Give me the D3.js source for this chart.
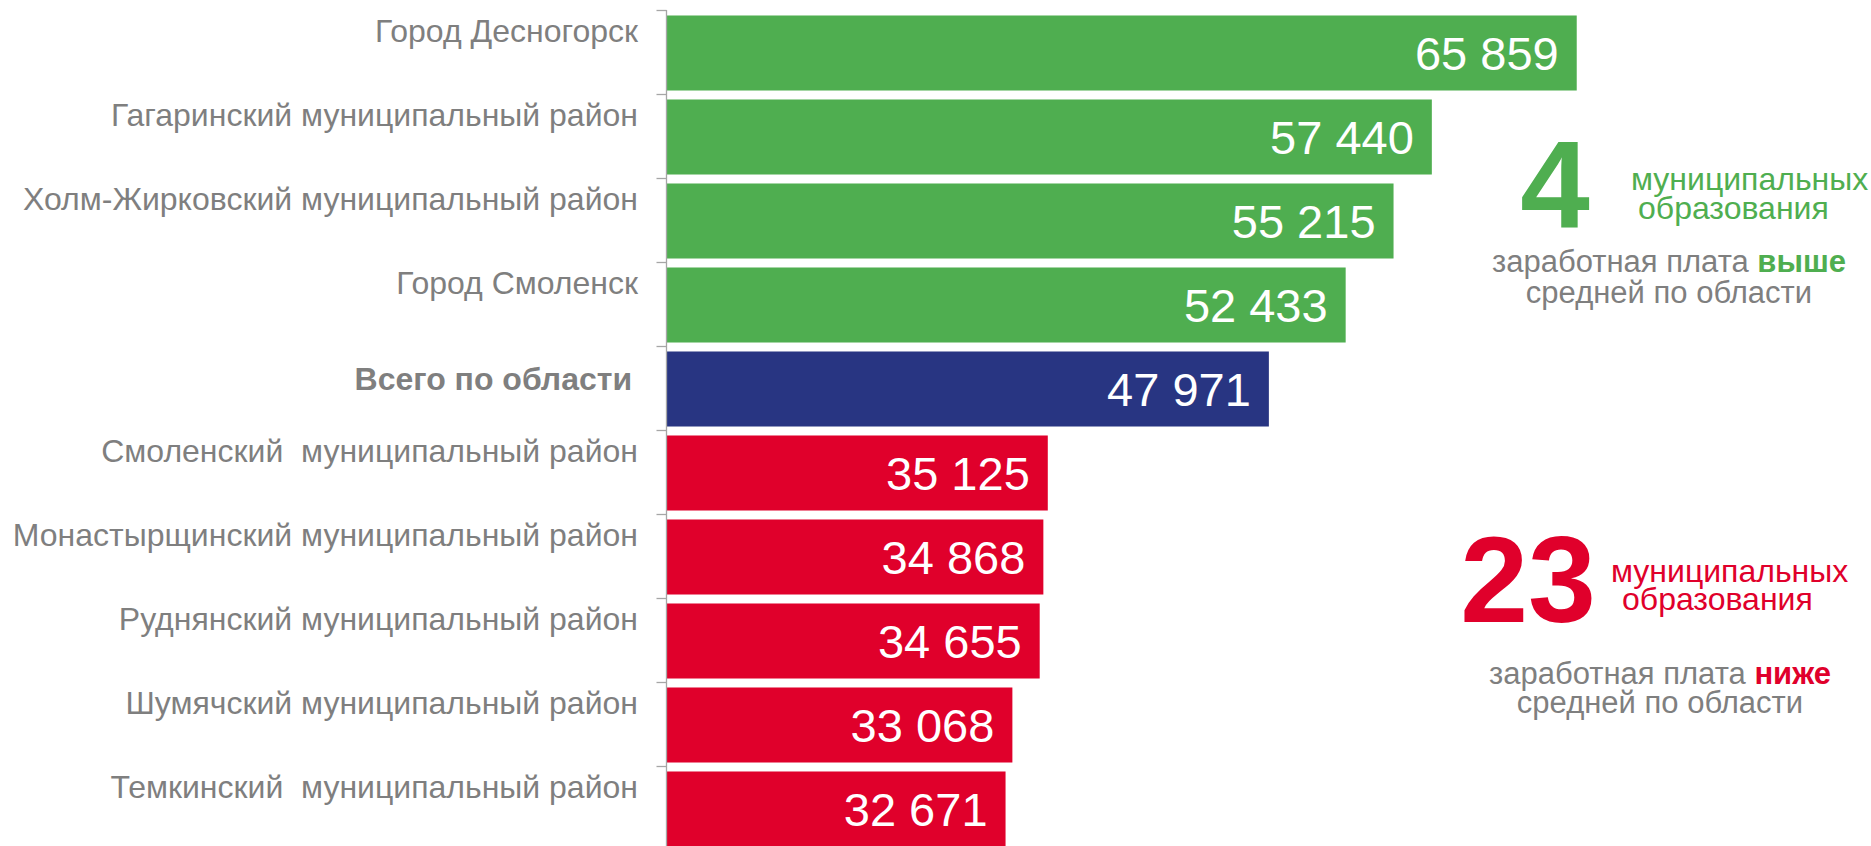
<!DOCTYPE html>
<html>
<head>
<meta charset="utf-8">
<script src="https://cdn.jsdelivr.net/npm/d3@7"></script>
<style>
  body { margin: 0; background: #fff; }
  text { font-family: "Liberation Sans", Arial, sans-serif; white-space: pre; }
</style>
</head>
<body>
<div class="BarChart"></div>
<script>
// Data
const names = [
  "Город Десногорск",
  "Гагаринский муниципальный район",
  "Холм-Жирковский муниципальный район",
  "Город Смоленск",
  "Всего по области ",
  "Смоленский  муниципальный район",
  "Монастырщинский муниципальный район",
  "Руднянский муниципальный район",
  "Шумячский муниципальный район",
  "Темкинский  муниципальный район",
];
const values = [65859, 57440, 55215, 52433, 47971, 35125, 34868, 34655, 33068, 32671];
const totalIndex = 4;

const aboveCount = "4";
const belowCount = "23";
const countLines = ["муниципальных", "образования"];
const noteStart = "заработная плата ";
const noteAbove = "выше";
const noteBelow = "ниже";
const noteEnd = "средней по области";

const green = "#4FAE50";
const blue = "#283582";
const red = "#E0002B";
const grey = "#7F7F7F";

function createBarChart() {
  const width = 1871;
  const height = 846;

  const svg = d3
    .select(".BarChart")
    .append("svg")
    .attr("width", width)
    .attr("height", height);

  const data = names.map((n, i) => ({ name: n, value: values[i], i: i }));
  const total = values[totalIndex];

  const color = (d) =>
    d.i === totalIndex ? blue : d.value > total ? green : red;

  const xScale = d3.scaleLinear().domain([13000, 70000]).range([667, 1648]);

  // rows (axis bands) and bars inside them
  const rows = d3.scaleBand().domain(names).range([10, 850]);
  const yScale = d3
    .scaleBand()
    .domain(names)
    .range([11, 851])
    .paddingInner(0.107)
    .paddingOuter(0.0535);

  // bars
  svg
    .selectAll(".bar")
    .data(data)
    .enter()
    .append("rect")
    .attr("class", "bar")
    .attr("x", xScale(13000))
    .attr("y", (d) => yScale(d.name))
    .attr("width", (d) => xScale(d.value) - xScale(13000))
    .attr("height", yScale.bandwidth())
    .attr("fill", color);

  // value labels
  svg
    .selectAll(".value")
    .data(data)
    .enter()
    .append("text")
    .attr("class", "value")
    .attr("x", (d) => xScale(d.value) - 18)
    .attr("y", (d) => yScale(d.name) + yScale.bandwidth() / 2 + 17)
    .attr("text-anchor", "end")
    .attr("fill", "white")
    .style("font-size", "47px")
    .text((d) => d3.format(",")(d.value).replace(/,/g, " "));

  // axis line with ticks at row boundaries
  const axisX = 666.5;
  svg
    .append("line")
    .attr("x1", axisX)
    .attr("x2", axisX)
    .attr("y1", rows(names[0]))
    .attr("y2", height)
    .attr("stroke", "#A6A6A6")
    .attr("stroke-width", 1.3);

  svg
    .selectAll(".tick")
    .data(names)
    .enter()
    .append("line")
    .attr("class", "tick")
    .attr("x1", axisX - 10)
    .attr("x2", axisX)
    .attr("y1", (d) => rows(d) + 0.5)
    .attr("y2", (d) => rows(d) + 0.5)
    .attr("stroke", "#A6A6A6")
    .attr("stroke-width", 1.3);

  // category labels
  svg
    .selectAll(".label")
    .data(data)
    .enter()
    .append("text")
    .attr("class", "label")
    .attr("x", (d) => (d.i === totalIndex ? 641 : 638))
    .attr("y", (d) =>
      yScale(d.name) + yScale.bandwidth() / 2 + (d.i === totalIndex ? 0.5 : -11)
    )
    .attr("text-anchor", "end")
    .attr("fill", grey)
    .style("font-size", "32px")
    .style("font-weight", (d) => (d.i === totalIndex ? "bold" : "normal"))
    .text((d) => d.name);

  // annotation blocks on the right
  function addNote(cfg) {
    svg
      .append("text")
      .attr("x", cfg.numX)
      .attr("y", cfg.numY)
      .attr("text-anchor", "middle")
      .attr("fill", cfg.color)
      .style("font-size", cfg.numSize)
      .style("font-weight", "bold")
      .text(cfg.count);

    countLines.forEach((t, k) => {
      svg
        .append("text")
        .attr("x", cfg.wordX[k])
        .attr("y", cfg.wordY[k])
        .attr("fill", cfg.color)
        .style("font-size", "32px")
        .text(t);
    });

    const note = svg
      .append("text")
      .attr("x", cfg.noteX)
      .attr("y", cfg.noteY[0])
      .attr("text-anchor", "middle")
      .attr("fill", grey)
      .style("font-size", "31px");
    note.append("tspan").text(noteStart);
    note
      .append("tspan")
      .attr("fill", cfg.color)
      .style("font-weight", "bold")
      .text(cfg.word);

    svg
      .append("text")
      .attr("x", cfg.noteX)
      .attr("y", cfg.noteY[1])
      .attr("text-anchor", "middle")
      .attr("fill", grey)
      .style("font-size", "31px")
      .text(noteEnd);
  }

  addNote({
    count: aboveCount,
    color: green,
    word: noteAbove,
    numSize: "125px",
    numX: 1555,
    numY: 227,
    wordX: [1631, 1638],
    wordY: [190, 219],
    noteX: 1669,
    noteY: [272, 303],
  });

  addNote({
    count: belowCount,
    color: red,
    word: noteBelow,
    numSize: "122px",
    numX: 1528,
    numY: 622,
    wordX: [1611, 1622],
    wordY: [582, 610],
    noteX: 1660,
    noteY: [684, 713],
  });
}

createBarChart();
</script>
</body>
</html>
